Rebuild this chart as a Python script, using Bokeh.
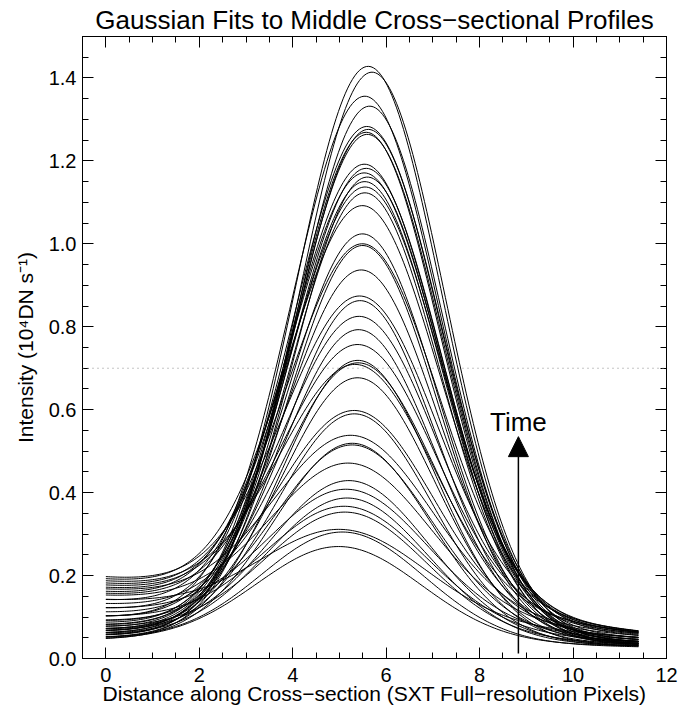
import numpy as np
from bokeh.plotting import figure
from bokeh.models import (LinearAxis, Span, Arrow, NormalHead, Label, Range1d, FixedTicker,
                          PrintfTickFormatter)
from bokeh.embed import file_html
from bokeh.resources import INLINE

# ---- Gaussian fit parameters (one entry per profile) ----
peak = [1.428, 1.414, 1.356, 1.332, 1.283, 1.276, 1.269, 1.264, 1.192, 1.182,
        1.171, 1.161, 1.150, 1.137, 1.123, 1.092, 1.024, 1.000, 0.996, 0.937,
        0.874, 0.863, 0.825, 0.793, 0.757, 0.719, 0.713, 0.709, 0.677, 0.598,
        0.590, 0.538, 0.519, 0.515, 0.471, 0.429, 0.408, 0.387, 0.367, 0.353,
        0.311, 0.305, 0.270]
center = [5.62, 5.70, 5.55, 5.65, 5.60, 5.62, 5.58, 5.60, 5.55, 5.58,
          5.55, 5.60, 5.55, 5.57, 5.55, 5.52, 5.50, 5.52, 5.50, 5.48,
          5.47, 5.45, 5.45, 5.42, 5.43, 5.40, 5.42, 5.38, 5.40, 5.35,
          5.33, 5.30, 5.28, 5.30, 5.25, 5.22, 5.20, 5.18, 5.15, 5.15,
          5.10, 5.08, 5.00]
sigma = [1.56, 1.56, 1.58, 1.56, 1.58, 1.58, 1.56, 1.58, 1.58, 1.60,
         1.58, 1.58, 1.60, 1.58, 1.60, 1.60, 1.60, 1.60, 1.60, 1.62,
         1.62, 1.62, 1.62, 1.63, 1.63, 1.63, 1.64, 1.63, 1.64, 1.66,
         1.66, 1.68, 1.68, 1.68, 1.70, 1.70, 1.70, 1.72, 1.72, 1.72,
         1.74, 1.74, 1.76]
bg_left = [0.080, 0.060, 0.100, 0.070, 0.120, 0.055, 0.090, 0.065, 0.140, 0.075,
           0.160, 0.050, 0.085, 0.170, 0.060, 0.190, 0.070, 0.180, 0.055, 0.100,
           0.195, 0.065, 0.155, 0.080, 0.175, 0.050, 0.110, 0.185, 0.070, 0.130,
           0.060, 0.165, 0.045, 0.090, 0.150, 0.065, 0.120, 0.055, 0.100, 0.075,
           0.140, 0.048, 0.045]
bg_right = [0.045, 0.040, 0.050, 0.040, 0.055, 0.035, 0.045, 0.040, 0.060, 0.035,
            0.062, 0.032, 0.040, 0.065, 0.035, 0.065, 0.038, 0.062, 0.034, 0.045,
            0.066, 0.036, 0.060, 0.040, 0.063, 0.030, 0.050, 0.064, 0.036, 0.050,
            0.034, 0.058, 0.030, 0.040, 0.055, 0.032, 0.045, 0.030, 0.040, 0.034,
            0.050, 0.028, 0.030]
x_start, x_end = 0.0, 11.4

x_major = [0, 2, 4, 6, 8, 10, 12]
y_major = [0.0, 0.2, 0.4, 0.6, 0.8, 1.0, 1.2, 1.4]
x_minor = [i * 0.5 for i in range(-1, 25)]
y_minor = [i * 0.05 for i in range(0, 31)]

threshold = 0.7
arrow_x, arrow_y0, arrow_y1 = 8.83, 0.012, 0.535
time_y = 0.570

FONT = "Liberation Sans"

p = figure(width=697, height=710, x_range=Range1d(-0.5, 12), y_range=Range1d(0, 1.5),
           output_backend="svg", toolbar_location=None,
           min_border_left=82, min_border_right=31, min_border_top=36, min_border_bottom=52)
p.background_fill_color = "white"
p.border_fill_color = "white"
p.outline_line_color = "black"
p.xgrid.visible = False
p.ygrid.visible = False

p.title.text = "Gaussian Fits to Middle Cross\u2212sectional Profiles"
p.title.align = "center"
p.title.text_font = FONT
p.title.text_font_size = "26px"
p.title.text_font_style = "normal"
p.title.text_color = "black"
p.title.standoff = 3

xs, ys = [], []
xg = np.linspace(x_start, x_end, 230)
for pk, c, s, bl, br in zip(peak, center, sigma, bg_left, bg_right):
    slope = (br - bl) / (x_end - x_start)
    bg = bl + slope * (xg - x_start)
    amp = pk - (bl + slope * (c - x_start))
    xs.append(xg)
    ys.append(amp * np.exp(-(xg - c) ** 2 / (2 * s * s)) + bg)
p.multi_line(xs, ys, line_color="black", line_width=1)

p.add_layout(Span(location=threshold, dimension="width", line_color="#888888",
                  line_dash="1 4", line_width=1))

p.add_layout(Arrow(end=NormalHead(size=20, fill_color="black", line_color="black"),
                   x_start=arrow_x, y_start=arrow_y0, x_end=arrow_x, y_end=arrow_y1,
                   line_color="black", line_width=1.5))
p.add_layout(Label(x=arrow_x, y=time_y, text="Time", text_align="center",
                   text_baseline="alphabetic", text_font=FONT, text_font_size="26px",
                   text_color="black"))


def style(ax, labels=True):
    ax.axis_line_color = "black"
    ax.major_tick_line_color = "black"
    ax.minor_tick_line_color = "black"
    ax.major_tick_in = 11
    ax.major_tick_out = 0
    ax.minor_tick_in = 6
    ax.minor_tick_out = 0
    if labels:
        ax.major_label_text_font = FONT
        ax.major_label_text_font_size = "20px"
        ax.major_label_text_color = "black"
        ax.axis_label_text_font = FONT
        ax.axis_label_text_font_style = "normal"
        ax.axis_label_text_color = "black"
    else:
        ax.major_label_standoff = 0


xt = FixedTicker(ticks=x_major, minor_ticks=x_minor)
yt = FixedTicker(ticks=y_major, minor_ticks=y_minor)

xa = p.xaxis[0]
xa.ticker = xt
style(xa)
xa.major_label_standoff = 9
xa.axis_label = "Distance along Cross\u2212section (SXT Full\u2212resolution Pixels)"
xa.axis_label_text_font_size = "21px"
xa.axis_label_standoff = -3

ya = p.yaxis[0]
ya.ticker = yt
style(ya)
ya.major_label_standoff = 6
ya.formatter = PrintfTickFormatter(format="%.1f")
ya.axis_label = "Intensity (10\u2074DN s\u207b\u00b9)"
ya.axis_label_text_font_size = "21px"
ya.axis_label_standoff = 9

top = LinearAxis(ticker=FixedTicker(ticks=x_major, minor_ticks=x_minor))
style(top, labels=False)
top.major_label_overrides = {t: "" for t in x_major}
p.add_layout(top, "above")
right = LinearAxis(ticker=FixedTicker(ticks=y_major, minor_ticks=y_minor))
style(right, labels=False)
right.major_label_overrides = {t: "" for t in y_major}
p.add_layout(right, "right")

open("out.html", "w").write(file_html(p, INLINE))
